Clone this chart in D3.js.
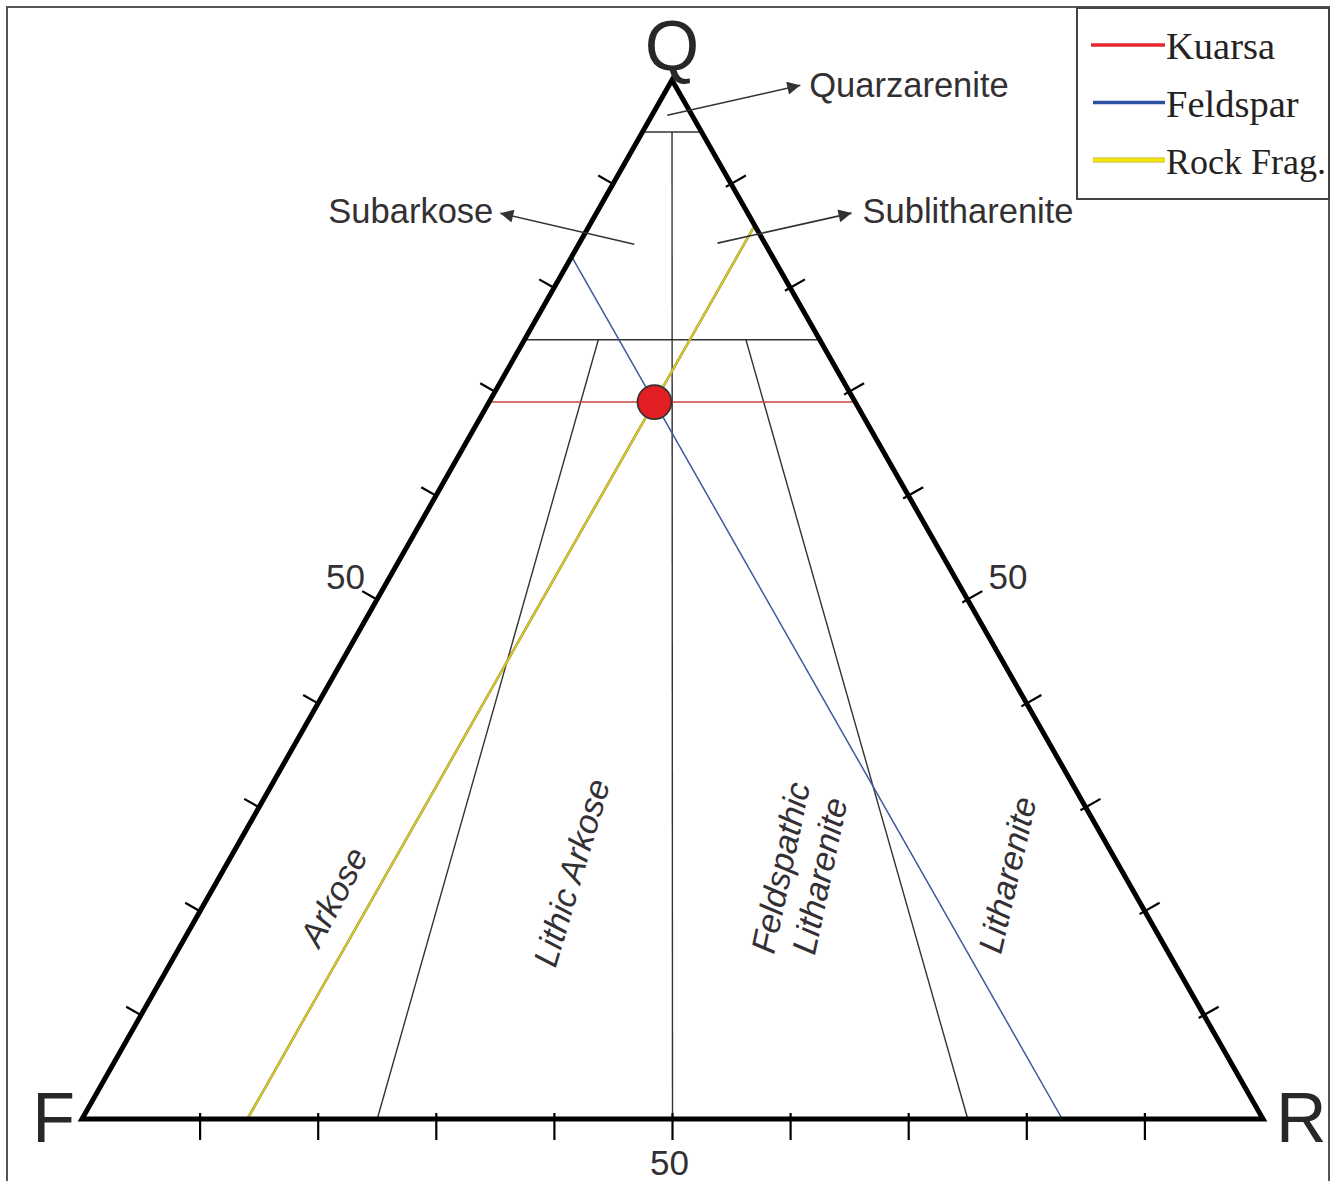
<!DOCTYPE html>
<html>
<head>
<meta charset="utf-8">
<script src="https://cdn.jsdelivr.net/npm/d3@7"></script>
<style>
  body { margin: 0; background: #fff; }
  svg { display: block; }
</style>
</head>
<body>
<svg id="chart" width="1338" height="1181"></svg>
<script>
// ---- data -------------------------------------------------------------
const vertexNames = ["Q", "F", "R"];
const tickValues = [10, 20, 30, 40, 50, 60, 70, 80, 90];
const tickLabelValues = [50];
const quartzBoundaries = [95, 75];                 // Q% field boundaries
const ratioLines = [0.75, 0.5, 0.25];              // F/(F+R) field boundaries
const ratioLineTops = [75, 95, 75];                // Q% where each ratio line starts
const fieldNames = ["Quarzarenite", "Subarkose", "Sublitharenite",
                    "Arkose", "Lithic Arkose", "Feldspathic Litharenite", "Litharenite"];
const sampleQ = 69, sampleF = 17, sampleR = 14;    // Kuarsa, Feldspar, Rock Frag. (%)
const legendNames = ["Kuarsa", "Feldspar", "Rock Frag."];
const legendColors = ["#e3262a", "#2c4f9e", "#f4e600"];
const lineColors = ["#c9443c", "#3d5a98", "#d9cc2a"];

// ---- ternary geometry ---------------------------------------------------
const Fx = 82, Rx = 1263, Qx = 672, baseY = 1119, apexY = 80;
const yScale = d3.scaleLinear().domain([0, 100]).range([baseY, apexY]);     // by Q
const rScale = d3.scaleLinear().domain([0, 100]).range([Fx, Rx]);           // by R along base
const qShift = d3.scaleLinear().domain([0, 100]).range([0, Qx - Fx]);       // x shift by Q
function pt(q, f, r) {
  const s = q + f + r;
  q = q * 100 / s; r = r * 100 / s;
  return [rScale(r) + qShift(q), yScale(q)];
}

const svg = d3.select("#chart");
const sans = "'Liberation Sans', Arial, Helvetica, sans-serif";
const serif = "'Liberation Serif', 'Times New Roman', serif";
const textColor = "#333033";

// outer frame
svg.append("rect").attr("x", 7).attr("y", 7).attr("width", 1322).attr("height", 1185)
  .attr("fill", "none").attr("stroke", "#555").attr("stroke-width", 2);

const line = d3.line();
const g = svg.append("g");

// ---- field boundaries -----------------------------------------------------
quartzBoundaries.forEach(q => {
  g.append("path").attr("d", line([pt(q, 100 - q, 0), pt(q, 0, 100 - q)]))
    .attr("stroke", "#333").attr("stroke-width", 1.6).attr("fill", "none");
});
ratioLines.forEach((fr, i) => {
  const top = ratioLineTops[i];
  const a = pt(top, (100 - top) * fr, (100 - top) * (1 - fr));
  const b = pt(0, 100 * fr, 100 * (1 - fr));
  g.append("path").attr("d", line([a, b]))
    .attr("stroke", "#333").attr("stroke-width", 1.4).attr("fill", "none");
});

// ---- sample composition lines ----------------------------------------------
const sampleLines = [
  [pt(sampleQ, 100 - sampleQ, 0), pt(sampleQ, 0, 100 - sampleQ)],
  [pt(100 - sampleF, sampleF, 0), pt(0, sampleF, 100 - sampleF)],
  [pt(100 - sampleR, 0, sampleR), pt(0, 100 - sampleR, sampleR)]
];
sampleLines.forEach((seg, i) => {
  if (i === 2) {
    g.append("path").attr("d", line(seg)).attr("stroke", "#9a9030")
      .attr("stroke-width", 2.6).attr("fill", "none");
  }
  g.append("path").attr("d", line(seg)).attr("stroke", lineColors[i])
    .attr("stroke-width", i === 2 ? 1.6 : 1.5).attr("fill", "none");
});

// ---- triangle outline ---------------------------------------------------------
g.append("path")
  .attr("d", line([pt(100, 0, 0), pt(0, 100, 0), pt(0, 0, 100)]) + "Z")
  .attr("fill", "none").attr("stroke", "#000").attr("stroke-width", 5)
  .attr("stroke-linejoin", "miter");

// ---- ticks ---------------------------------------------------------------------
function unit(a, b) { const dx = b[0] - a[0], dy = b[1] - a[1], l = Math.hypot(dx, dy); return [dx / l, dy / l]; }
const uL = unit(pt(0, 100, 0), pt(100, 0, 0));
const nL = [uL[1], -uL[0]];                      // outward normal, left side
const uR = unit(pt(100, 0, 0), pt(0, 0, 100));
const nR = [uR[1], -uR[0]];                      // outward normal, right side
const nB = [0, 1];
const sides = [
  { p: t => pt(t, 100 - t, 0), n: nL, out: 17, inn: 2 },
  { p: t => pt(t, 0, 100 - t), n: nR, out: 17, inn: 6 },
  { p: t => pt(0, 100 - t, t), n: nB, out: 21, inn: 6 }
];
sides.forEach(s => {
  g.selectAll(null).data(tickValues).enter().append("path")
    .attr("d", t => {
      const c = s.p(t);
      return line([[c[0] - s.n[0] * s.inn, c[1] - s.n[1] * s.inn],
                   [c[0] + s.n[0] * s.out, c[1] + s.n[1] * s.out]]);
    })
    .attr("stroke", "#000").attr("stroke-width", 2.2);
});

// tick labels
tickLabelValues.forEach(v => {
  const l = pt(v, 100 - v, 0), r = pt(v, 0, 100 - v), b = pt(0, 100 - v, v);
  svg.append("text").attr("x", l[0] - 12).attr("y", l[1] - 11).attr("text-anchor", "end")
    .attr("font-family", sans).attr("font-size", 35).attr("fill", textColor).text(v);
  svg.append("text").attr("x", r[0] + 21).attr("y", r[1] - 11).attr("text-anchor", "start")
    .attr("font-family", sans).attr("font-size", 35).attr("fill", textColor).text(v);
  svg.append("text").attr("x", b[0] - 3).attr("y", b[1] + 56).attr("text-anchor", "middle")
    .attr("font-family", sans).attr("font-size", 35).attr("fill", textColor).text(v);
});

// ---- vertex labels -----------------------------------------------------------------
const vQ = pt(100, 0, 0), vF = pt(0, 100, 0), vR = pt(0, 0, 100);
svg.append("text").attr("x", vQ[0]).attr("y", vQ[1] - 10).attr("text-anchor", "middle")
  .attr("font-family", sans).attr("font-size", 70).attr("fill", "#2a2727").text(vertexNames[0]);
svg.append("text").attr("x", vF[0] - 7).attr("y", vF[1] + 23).attr("text-anchor", "end")
  .attr("font-family", sans).attr("font-size", 70).attr("fill", "#2a2727").text(vertexNames[1]);
svg.append("text").attr("x", vR[0] + 13).attr("y", vR[1] + 23).attr("text-anchor", "start")
  .attr("font-family", sans).attr("font-size", 70).attr("fill", "#2a2727").text(vertexNames[2]);

// ---- field names with pointer arrows --------------------------------------------------
const defs = svg.append("defs");
defs.append("marker").attr("id", "arrowhead").attr("viewBox", "0 0 10 10")
  .attr("refX", 10).attr("refY", 5).attr("markerWidth", 17).attr("markerHeight", 13)
  .attr("markerUnits", "userSpaceOnUse").attr("orient", "auto")
  .append("path").attr("d", "M0,0 L10,5 L0,10 Z").attr("fill", "#333");

const pointers = [
  { name: fieldNames[0], from: pt(96.6, 2.1, 1.3), dx: 133, dy: -30, anchor: "start", tx: 9, ty: 12 },
  { name: fieldNames[1], from: pt(84.2, 11.1, 4.7), dx: -134, dy: -31, anchor: "end", tx: -7, ty: 10 },
  { name: fieldNames[2], from: pt(84.3, 4.0, 11.7), dx: 134, dy: -30, anchor: "start", tx: 11, ty: 10 }
];
pointers.forEach(p => {
  const to = [p.from[0] + p.dx, p.from[1] + p.dy];
  svg.append("path").attr("d", line([p.from, to])).attr("stroke", "#333")
    .attr("stroke-width", 1.6).attr("fill", "none").attr("marker-end", "url(#arrowhead)");
  svg.append("text").attr("x", to[0] + p.tx).attr("y", to[1] + p.ty)
    .attr("text-anchor", p.anchor).attr("font-family", sans).attr("font-size", 34.5)
    .attr("fill", textColor).text(p.name);
});

// ---- rotated field names inside the triangle ---------------------------------------------
const rotated = [
  { lines: [fieldNames[3]], at: pt(21.4, 68.0, 10.6), angle: -62 },
  { lines: [fieldNames[4]], at: pt(23.7, 46.7, 29.6), angle: -73.5 },
  { lines: ["Feldspathic", "Litharenite"], at: pt(23.8, 27.3, 48.9), angle: -78 },
  { lines: [fieldNames[6]], at: pt(23.5, 9.9, 66.6), angle: -77 }
];
rotated.forEach(r => {
  const t = svg.append("text")
    .attr("transform", `translate(${r.at[0]},${r.at[1]}) rotate(${r.angle})`)
    .attr("text-anchor", "middle").attr("font-family", sans).attr("font-style", "italic")
    .attr("font-size", 34).attr("fill", textColor);
  const n = r.lines.length;
  r.lines.forEach((s, i) => {
    t.append("tspan").attr("x", 0).attr("y", (i - (n - 1) / 2) * 40 + 12).text(s);
  });
});

// ---- sample point -------------------------------------------------------------------
const sp = pt(sampleQ, sampleF, sampleR);
svg.append("circle").attr("cx", sp[0]).attr("cy", sp[1]).attr("r", 17)
  .attr("fill", "#e31e25").attr("stroke", "#333").attr("stroke-width", 1.6);

// ---- legend ----------------------------------------------------------------------------
const lg = svg.append("g");
lg.append("rect").attr("x", 1077).attr("y", 8).attr("width", 252).attr("height", 191)
  .attr("fill", "#fff").attr("stroke", "#444").attr("stroke-width", 2);
const legendY = d3.scalePoint().domain(legendNames).range([45, 160]);
legendNames.forEach((name, i) => {
  const y = legendY(name);
  if (i === 2) {
    lg.append("path").attr("d", line([[1093, y], [1165, y]])).attr("stroke", "#b8ad3a")
      .attr("stroke-width", 5);
  }
  lg.append("path").attr("d", line([[i === 0 ? 1091 : 1093, y], [1165, y]]))
    .attr("stroke", legendColors[i]).attr("stroke-width", i === 2 ? 3.4 : 3.6);
  lg.append("text").attr("x", 1166).attr("y", y + 14).attr("font-family", serif)
    .attr("font-size", i === 2 ? 36 : 38.5).attr("fill", "#252222").text(name);
});
</script>
</body>
</html>
